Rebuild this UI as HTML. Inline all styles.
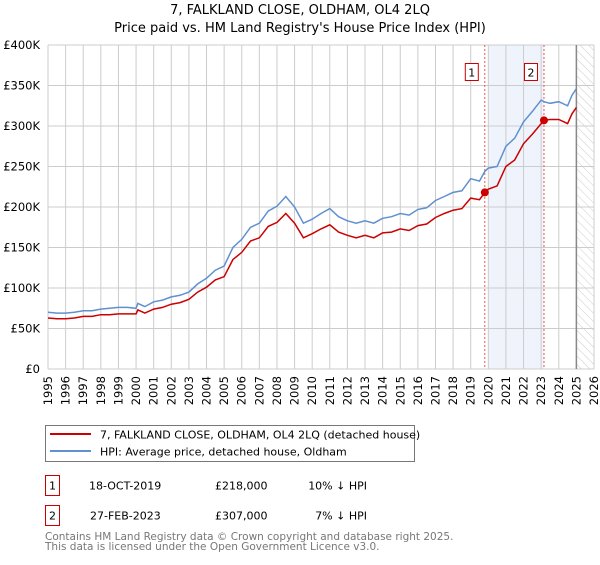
<!DOCTYPE html>
<html><head><meta charset="utf-8"><style>
body{margin:0;background:#fff;font-family:"Liberation Sans","DejaVu Sans",sans-serif;}
svg text{font-family:"DejaVu Sans","Liberation Sans",sans-serif;}
</style></head><body>
<svg id="chart" width="600" height="560" xmlns="http://www.w3.org/2000/svg">
<defs><pattern id="hatch" width="6" height="6" patternUnits="userSpaceOnUse" patternTransform="rotate(-45)"><line x1="0" y1="0" x2="0" y2="6" stroke="#ccc" stroke-width="1"/></pattern></defs>
<text x="300" y="14" text-anchor="middle" font-size="13" fill="#000">7, FALKLAND CLOSE, OLDHAM, OL4 2LQ</text>
<text x="300" y="32" text-anchor="middle" font-size="13" fill="#000">Price paid vs. HM Land Registry's House Price Index (HPI)</text>
<g id="grid"></g><g id="marks"></g><g id="axes"></g>
<g>
<rect x="45.5" y="425.5" width="369" height="36" fill="#fff" stroke="#777"/>
<line x1="50" y1="434" x2="91" y2="434" stroke="#cc0000" stroke-width="2"/>
<text x="100" y="438.5" font-size="11">7, FALKLAND CLOSE, OLDHAM, OL4 2LQ (detached house)</text>
<line x1="50" y1="451" x2="91" y2="451" stroke="#6090d0" stroke-width="2"/>
<text x="100" y="455.5" font-size="11">HPI: Average price, detached house, Oldham</text>
</g>
<g>
<rect x="45.5" y="475.5" width="14" height="20" fill="none" stroke="#cc0000"/>
<text x="52.5" y="489.5" font-size="11" text-anchor="middle">1</text>
<text x="89" y="489.5" font-size="11">18-OCT-2019</text>
<text x="215" y="489.5" font-size="11">£218,000</text>
<text x="367" y="489.5" font-size="11" text-anchor="end">10% ↓ HPI</text>
</g>
<g>
<rect x="45.5" y="505.5" width="14" height="20" fill="none" stroke="#cc0000"/>
<text x="52.5" y="519.5" font-size="11" text-anchor="middle">2</text>
<text x="90" y="519.5" font-size="11">27-FEB-2023</text>
<text x="215" y="519.5" font-size="11">£307,000</text>
<text x="367" y="519.5" font-size="11" text-anchor="end">7% ↓ HPI</text>
</g>
<text x="45" y="540" font-size="10.5" fill="#777">Contains HM Land Registry data © Crown copyright and database right 2025.</text>
<text x="45" y="550" font-size="10.5" fill="#777">This data is licensed under the Open Government Licence v3.0.</text>
</svg>
<script>
const years=[1995,1995.5,1996,1996.5,1997,1997.5,1998,1998.5,1999,1999.5,2000,2000.1,2000.5,2001,2001.5,2002,2002.5,2003,2003.5,2004,2004.5,2005,2005.5,2006,2006.5,2007,2007.5,2008,2008.5,2009,2009.5,2010,2010.5,2011,2011.5,2012,2012.5,2013,2013.5,2014,2014.5,2015,2015.5,2016,2016.5,2017,2017.5,2018,2018.5,2019,2019.5,2019.8,2020,2020.5,2021,2021.5,2022,2022.5,2023,2023.16,2023.5,2024,2024.5,2024.75,2025];
const hpi=[70,69,69,70,72,72,74,75,76,76,75,81,77,83,85,89,91,95,105,112,122,127,150,160,175,180,195,201,213,200,180,185,192,198,188,183,180,183,180,186,188,192,190,197,199,208,213,218,220,235,232,244,248,250,275,285,305,318,332,330,328,330,325,338,346];
const paid=[63,62,62,63,65,65,67,67,68,68,68,73,69,74,76,80,82,86,95,101,110,114,135,144,158,162,176,181,192,180,162,167,173,178,169,165,162,165,162,168,169,173,171,177,179,187,192,196,198,211,209,218,222,226,250,258,278,290,303,307,308,308,303,315,323];
const sales=[[2019.8,218],[2023.16,307]];
const yTicks=[0,50,100,150,200,250,300,350,400];
const xTicks=[1995,1996,1997,1998,1999,2000,2001,2002,2003,2004,2005,2006,2007,2008,2009,2010,2011,2012,2013,2014,2015,2016,2017,2018,2019,2020,2021,2022,2023,2024,2025,2026];
const NS='http://www.w3.org/2000/svg';
const X=y=>48+(y-1995)*(594-48)/31, Y=v=>369-v*(369-45)/400;
function mk(tag,attrs,parent){const e=document.createElementNS(NS,tag);for(const k in attrs)e.setAttribute(k,attrs[k]);document.getElementById(parent).appendChild(e);return e;}
const g='grid';
let e=mk('rect',{x:X(2020),y:45,width:X(2023.16)-X(2020),height:324,fill:'#eef3fc'},g);


e=mk('rect',{x:X(2025),y:45,width:X(2026)-X(2025),height:324,fill:'url(#hatch)'},g);


xTicks.forEach(t=>{const l=mk('line',{x1:X(t),y1:45,x2:X(t),y2:369,stroke:'#ccc'},g);


const tx=mk('text',{x:0,y:0,transform:`translate(${X(t)+4},376) rotate(-90)`,'text-anchor':'end','font-size':'11.5'},'axes');tx.textContent=t;

});
yTicks.forEach(t=>{const l=mk('line',{x1:48,y1:Y(t),x2:594,y2:Y(t),stroke:'#ccc'},g);


const tx=mk('text',{x:40,y:Y(t)+4,'text-anchor':'end','font-size':'11.5'},'axes');tx.textContent=t===0?'£0':'£'+t+'K';

});
e=mk('line',{x1:X(2025),y1:45,x2:X(2025),y2:369,stroke:'#888','stroke-width':1.5},g);


sales.forEach((s,i)=>{const l=mk('line',{x1:X(s[0]),y1:45,x2:X(s[0]),y2:369,stroke:'#ee5555','stroke-dasharray':'2,2'},'grid');


const r=mk('rect',{x:X(s[0])-19.5,y:63.5,width:13,height:17,fill:'#fff',stroke:'#cc0000'},'marks');


const t=mk('text',{x:X(s[0])-13,y:76.5,'text-anchor':'middle','font-size':'11'},'marks');t.textContent=i+1;

});
const pts=a=>a.map((v,i)=>X(years[i]).toFixed(1)+','+Y(v).toFixed(1)).join(' ');
e=mk('polyline',{points:pts(hpi),fill:'none',stroke:'#6090d0','stroke-width':1.5},'marks');


e=mk('polyline',{points:pts(paid),fill:'none',stroke:'#cc0000','stroke-width':1.5},'marks');


sales.forEach(s=>{const c=mk('circle',{cx:X(s[0]),cy:Y(s[1]),r:4,fill:'#cc0000'},'marks');

});
</script>
</body></html>
